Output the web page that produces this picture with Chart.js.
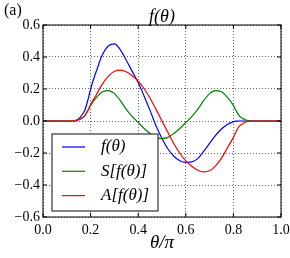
<!DOCTYPE html>
<html>
<head>
<meta charset="utf-8">
<script src="https://cdn.jsdelivr.net/npm/chart.js@4/dist/chart.umd.min.js"></script>
<style>
  html, body { margin: 0; padding: 0; background: #fff; }
</style>
</head>
<body>
<canvas id="chart" width="290" height="258"></canvas>
<script>
// values (theta in units of pi)
const theta = [0, 0.025, 0.05, 0.075, 0.1, 0.125, 0.1375, 0.15, 0.1625, 0.175, 0.1875, 0.2, 0.225, 0.25, 0.275, 0.3, 0.325, 0.35, 0.375, 0.4, 0.425, 0.45, 0.475, 0.5,
               0.525, 0.55, 0.575, 0.6, 0.625, 0.65, 0.675, 0.7, 0.725, 0.75, 0.775, 0.8, 0.8125, 0.825, 0.8375, 0.85, 0.8625, 0.875, 0.9, 0.925, 0.95, 0.975, 1];
const fVals = [0, 0, 0, 0, 0, 0, 0.004, 0.015, 0.035, 0.065, 0.125, 0.2, 0.315, 0.415, 0.47, 0.482, 0.445, 0.38, 0.31, 0.24, 0.155, 0.065, -0.03, -0.11,
               -0.175, -0.22, -0.248, -0.258, -0.255, -0.235, -0.19, -0.14, -0.09, -0.05, -0.02, -0.005, -0.001, 0, 0, 0, 0, 0, 0, 0, 0, 0, 0];
const sVals = [0, 0, 0, 0, 0, 0, 0.002, 0.0075, 0.0175, 0.0325, 0.062, 0.0975, 0.1475, 0.1825, 0.19, 0.171, 0.1275, 0.0725, 0.0275, -0.009, -0.0465, -0.0775, -0.1025, -0.11,
               -0.1025, -0.0775, -0.0465, -0.009, 0.0275, 0.0725, 0.1275, 0.171, 0.19, 0.1825, 0.1475, 0.0975, 0.062, 0.0325, 0.0175, 0.0075, 0.002, 0, 0, 0, 0, 0, 0];
const aVals = [0, 0, 0, 0, 0, 0, 0.002, 0.0075, 0.0175, 0.0325, 0.063, 0.1025, 0.1675, 0.2325, 0.28, 0.311, 0.3175, 0.3075, 0.2825, 0.249, 0.2015, 0.1425, 0.0725, 0,
               -0.0725, -0.1425, -0.2015, -0.249, -0.2825, -0.3075, -0.3175, -0.311, -0.28, -0.2325, -0.1675, -0.1025, -0.063, -0.0325, -0.0175, -0.0075, -0.002, 0, 0, 0, 0, 0, 0];
const seriesLabels = ['f(θ)', 'S[f(θ)]', 'A[f(θ)]'];
const seriesColors = ['#0000ff', '#008000', '#ff0000'];
const xTicks = [0, 0.2, 0.4, 0.6, 0.8, 1.0];
const yTicks = [-0.6, -0.4, -0.2, 0, 0.2, 0.4, 0.6];

const serif = "'Liberation Serif'";

const toPoints = vals => theta.map((t, i) => ({ x: t, y: vals[i] }));

const fmt = v => (v < 0 ? '\u2212' : '') + Math.abs(v).toFixed(1);

// frame, inward ticks, title, panel letter and legend like matplotlib
const decor = {
  id: 'decor',
  afterDatasetsDraw(chart) {
    const { ctx, chartArea: a, scales } = chart;
    ctx.save();
    ctx.strokeStyle = '#000';
    ctx.lineWidth = 1;
    ctx.strokeRect(a.left, a.top, a.right - a.left, a.bottom - a.top);

    ctx.beginPath();
    xTicks.forEach(v => {
      const px = scales.x.getPixelForValue(v);
      ctx.moveTo(px, a.bottom); ctx.lineTo(px, a.bottom - 4);
      ctx.moveTo(px, a.top); ctx.lineTo(px, a.top + 4);
    });
    yTicks.forEach(v => {
      const py = scales.y.getPixelForValue(v);
      ctx.moveTo(a.left, py); ctx.lineTo(a.left + 4, py);
      ctx.moveTo(a.right, py); ctx.lineTo(a.right - 4, py);
    });
    ctx.stroke();

    ctx.fillStyle = '#000';
    ctx.textBaseline = 'middle';
    ctx.textAlign = 'center';
    ctx.font = 'italic 18px ' + serif;
    ctx.fillText('f(θ)', (a.left + a.right) / 2, 17);

    ctx.textAlign = 'left';
    ctx.font = '16px ' + serif;
    ctx.fillText('(a)', 4, 11);

    // legend
    const lx = 52, ly = 134, lw = 106, lh = 77;
    ctx.fillStyle = '#fff';
    ctx.fillRect(lx, ly, lw, lh);
    ctx.strokeStyle = '#333';
    ctx.lineWidth = 1.2;
    ctx.strokeRect(lx, ly, lw, lh);
    ctx.font = 'italic 17px ' + serif;
    chart.data.datasets.forEach((ds, i) => {
      const y = 147 + i * 24.3;
      ctx.strokeStyle = ds.borderColor;
      ctx.lineWidth = 1.2;
      ctx.beginPath();
      ctx.moveTo(62, y); ctx.lineTo(85, y);
      ctx.stroke();
      ctx.fillStyle = '#000';
      ctx.fillText(ds.label, 101, y);
    });
    ctx.restore();
  }
};

const ctx = document.getElementById('chart');

new Chart(ctx, {
  type: 'line',
  data: {
    datasets: [fVals, sVals, aVals].map((vals, i) => ({
      label: seriesLabels[i],
      data: toPoints(vals),
      borderColor: seriesColors[i],
      borderWidth: 1.2,
      pointRadius: 0,
      fill: false,
      cubicInterpolationMode: 'monotone',
      order: 2 - i
    }))
  },
  options: {
    responsive: false,
    animation: false,
    devicePixelRatio: 1,
    layout: { padding: { left: 0, right: 9, top: 25, bottom: 0 } },
    plugins: {
      legend: { display: false },
      tooltip: { enabled: false },
      title: { display: false }
    },
    scales: {
      x: {
        type: 'linear',
        min: 0,
        max: 1,
        afterFit(s) { s.height = 41; s.paddingLeft = 0; s.paddingRight = 0; },
        afterBuildTicks(s) { s.ticks = xTicks.map(v => ({ value: v })); },
        ticks: {
          padding: 5,
          maxRotation: 0,
          color: '#000',
          font: { family: serif, size: 14 },
          callback: v => fmt(v)
        },
        grid: { color: 'rgba(0,0,0,0.6)', lineWidth: 1, drawTicks: false },
        border: { display: false, dash: [1, 2] },
        title: {
          display: true,
          text: 'θ/π',
          color: '#000',
          font: { family: serif, size: 19, style: 'italic' },
          padding: { top: 0, bottom: 4 }
        }
      },
      y: {
        type: 'linear',
        min: -0.6,
        max: 0.6,
        afterFit(s) { s.width = 43; s.paddingTop = 0; s.paddingBottom = 0; },
        afterBuildTicks(s) { s.ticks = yTicks.map(v => ({ value: v })); },
        ticks: {
          padding: 3,
          color: '#000',
          font: { family: serif, size: 14 },
          callback: v => fmt(v)
        },
        grid: { color: 'rgba(0,0,0,0.6)', lineWidth: 1, drawTicks: false },
        border: { display: false, dash: [1, 2] }
      }
    }
  },
  plugins: [decor]
});
</script>
</body>
</html>
